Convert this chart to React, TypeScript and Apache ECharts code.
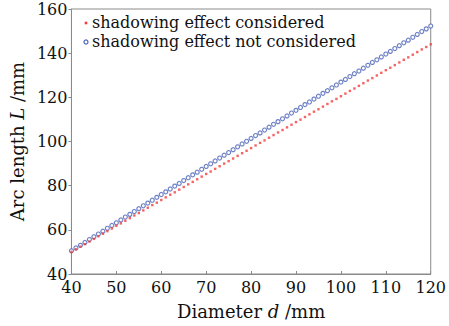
import React, { useEffect, useRef } from "react";
import * as echarts from "echarts";

const diameters = [
  40, 41, 42, 43, 44, 45, 46, 47, 48, 49, 50, 51, 52, 53, 54, 55, 56, 57, 58, 59,
  60, 61, 62, 63, 64, 65, 66, 67, 68, 69, 70, 71, 72, 73, 74, 75, 76, 77, 78, 79,
  80, 81, 82, 83, 84, 85, 86, 87, 88, 89, 90, 91, 92, 93, 94, 95, 96, 97, 98, 99,
  100, 101, 102, 103, 104, 105, 106, 107, 108, 109, 110, 111, 112, 113, 114, 115,
  116, 117, 118, 119, 120,
];

const arcConsidered = [
  50.0, 51.2, 52.4, 53.5, 54.7, 55.9, 57.1, 58.2, 59.4, 60.6, 61.8, 62.9, 64.1,
  65.3, 66.5, 67.6, 68.8, 70.0, 71.2, 72.3, 73.5, 74.7, 75.9, 77.0, 78.2, 79.4,
  80.6, 81.7, 82.9, 84.1, 85.3, 86.4, 87.6, 88.8, 90.0, 91.1, 92.3, 93.5, 94.7,
  95.8, 97.0, 98.2, 99.4, 100.5, 101.7, 102.9, 104.1, 105.2, 106.4, 107.6, 108.8,
  109.9, 111.1, 112.3, 113.5, 114.6, 115.8, 117.0, 118.2, 119.3, 120.5, 121.7,
  122.9, 124.0, 125.2, 126.4, 127.6, 128.7, 129.9, 131.1, 132.3, 133.4, 134.6,
  135.8, 137.0, 138.1, 139.3, 140.5, 141.7, 142.8, 144.0,
];

const arcNotConsidered = [
  50.5, 51.8, 53.0, 54.3, 55.6, 56.9, 58.1, 59.4, 60.7, 62.0, 63.2, 64.5, 65.8,
  67.0, 68.3, 69.6, 70.9, 72.1, 73.4, 74.7, 76.0, 77.2, 78.5, 79.8, 81.0, 82.3,
  83.6, 84.9, 86.1, 87.4, 88.7, 89.9, 91.2, 92.5, 93.8, 95.0, 96.3, 97.6, 98.9,
  100.1, 101.4, 102.7, 103.9, 105.2, 106.5, 107.8, 109.0, 110.3, 111.6, 112.9,
  114.1, 115.4, 116.7, 117.9, 119.2, 120.5, 121.8, 123.0, 124.3, 125.6, 126.9,
  128.1, 129.4, 130.7, 131.9, 133.2, 134.5, 135.8, 137.0, 138.3, 139.6, 140.8,
  142.1, 143.4, 144.7, 145.9, 147.2, 148.5, 149.8, 151.0, 152.3,
];

const seriesNames = ["shadowing effect considered", "shadowing effect not considered"];

const FONT = "DejaVu Serif";
const AXIS_COLOR = "#8a8a8a";
const RED = "#f23c3c";
const BLUE = "#4b63b8";
const TEXT = "#111111";

export default function App() {
  const ref = useRef<HTMLDivElement>(null);

  useEffect(() => {
    if (!ref.current) return;
    const chart = echarts.init(ref.current, undefined, { renderer: "svg" });
    const toPairs = (vals: number[]) => diameters.map((d, i) => [d, vals[i]]);
    const legendRich = { fontFamily: FONT, fontSize: 16, lineHeight: 19, color: TEXT };
    chart.setOption({
      animation: false,
      backgroundColor: "#ffffff",
      textStyle: { fontFamily: FONT },
      grid: {
        left: 66,
        right: 16,
        top: 9,
        bottom: 52,
        show: true,
        borderColor: AXIS_COLOR,
        borderWidth: 1,
      },
      title: {
        text: "{s|" + seriesNames[0] + "}\n{s|" + seriesNames[1] + "}",
        left: 92,
        top: 13,
        padding: 0,
        textStyle: {
          fontFamily: FONT,
          fontSize: 16,
          fontWeight: "normal",
          lineHeight: 19,
          color: TEXT,
          rich: { s: legendRich },
        },
      },
      graphic: [
        {
          type: "rect",
          shape: { x: 84.7, y: 21.7, width: 2.6, height: 2.6 },
          style: { fill: RED },
          z: 10,
        },
        {
          type: "circle",
          shape: { cx: 86, cy: 42, r: 2 },
          style: { fill: "#fff", stroke: BLUE, lineWidth: 1.2 },
          z: 10,
        },
      ],
      xAxis: {
        type: "value",
        min: 40,
        max: 120,
        interval: 10,
        splitLine: { show: false },
        axisLine: { show: true, lineStyle: { color: AXIS_COLOR } },
        axisTick: { show: true, inside: true, length: 3, lineStyle: { color: AXIS_COLOR } },
        axisLabel: { fontFamily: FONT, fontSize: 16, color: TEXT, margin: 5 },
        name: "Diameter {i|d} /mm",
        nameLocation: "middle",
        nameGap: 28,
        nameTextStyle: {
          fontFamily: FONT,
          fontSize: 18,
          color: TEXT,
          rich: { i: { fontFamily: FONT, fontSize: 18, fontStyle: "italic", color: TEXT } },
        },
      },
      yAxis: {
        type: "value",
        min: 40,
        max: 160,
        interval: 20,
        splitLine: { show: false },
        axisLine: { show: true, lineStyle: { color: AXIS_COLOR } },
        axisTick: { show: true, inside: false, length: 3, lineStyle: { color: AXIS_COLOR } },
        axisLabel: { fontFamily: FONT, fontSize: 16, color: TEXT, margin: 4 },
        name: "Arc length {i|L} /mm",
        nameLocation: "middle",
        nameGap: 36,
        nameTextStyle: {
          fontFamily: FONT,
          fontSize: 18,
          color: TEXT,
          rich: { i: { fontFamily: FONT, fontSize: 18, fontStyle: "italic", color: TEXT } },
        },
      },
      series: [
        {
          name: seriesNames[0],
          type: "scatter",
          symbol: "rect",
          symbolSize: 2.4,
          itemStyle: { color: RED },
          data: toPairs(arcConsidered),
          z: 3,
        },
        {
          name: seriesNames[1],
          type: "scatter",
          symbol: "circle",
          symbolSize: 4,
          itemStyle: { color: "#fff", borderColor: BLUE, borderWidth: 1.2 },
          data: toPairs(arcNotConsidered),
          z: 2,
        },
      ],
    });
    return () => chart.dispose();
  }, []);

  return (
    <div
      ref={ref}
      style={{ position: "absolute", left: 0, top: 0, width: 449, height: 326 }}
    />
  );
}
